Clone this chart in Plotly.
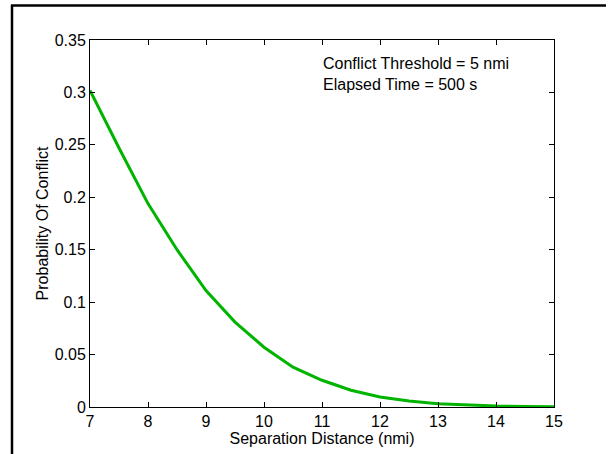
import plotly.graph_objects as go

separation = [7, 7.5, 8, 8.5, 9, 9.5, 10, 10.5, 11, 11.5, 12, 12.5, 13, 13.5, 14, 14.5, 15]
prob_conflict = [0.302, 0.247, 0.194, 0.150, 0.111, 0.081, 0.057, 0.038, 0.0255,
                 0.016, 0.0095, 0.0058, 0.0032, 0.0017, 0.0009, 0.0005, 0.0002]
x_ticks = [7, 8, 9, 10, 11, 12, 13, 14, 15]
y_ticks = [0, 0.05, 0.1, 0.15, 0.2, 0.25, 0.3, 0.35]
y_ticklabels = ["0", "0.05", "0.1", "0.15", "0.2", "0.25", "0.3", "0.35"]

W, H = 611, 454
L, R, T, B = 90, 57, 40, 47
pw, ph = W - L - R, H - T - B

def px(xp):
    return (xp - L) / pw

def py(yp):
    return (H - B - yp) / ph

FONT = "Liberation Sans, Arial, Helvetica, sans-serif"
FS = 16

fig = go.Figure()
fig.add_trace(go.Scatter(x=separation, y=prob_conflict, mode="lines",
                         line=dict(color="#00b400", width=3), showlegend=False))

axis_common = dict(showgrid=False, zeroline=False, showline=True, linecolor="#000000",
                   linewidth=1, mirror="allticks", ticks="inside", ticklen=5,
                   tickcolor="#000000", tickfont=dict(family=FONT, size=FS, color="#000"))

fig.update_xaxes(range=[7, 15], tickvals=x_ticks, ticktext=[str(v) for v in x_ticks],
                 title=dict(text="Separation Distance (nmi)", font=dict(family=FONT, size=FS, color="#000"),
                            standoff=0), **axis_common)
fig.update_yaxes(range=[0, 0.35], tickvals=y_ticks, ticktext=y_ticklabels,
                 title=dict(text="Probability Of Conflict", font=dict(family=FONT, size=FS, color="#000"),
                            standoff=2), **axis_common)

fig.add_annotation(xref="paper", yref="paper", x=px(321), y=py(53), xanchor="left", yanchor="top",
                   align="left", showarrow=False,
                   text="Conflict Threshold = 5 nmi<br>Elapsed Time = 500 s",
                   font=dict(family=FONT, size=FS, color="#000"))

# outer figure border (left and top)
fig.add_shape(type="line", xref="paper", yref="paper", x0=px(12), x1=px(12), y0=py(5), y1=py(H + 5),
              line=dict(color="#000", width=2.5))
fig.add_shape(type="line", xref="paper", yref="paper", x0=px(11), x1=px(606), y0=py(5.5), y1=py(5.5),
              line=dict(color="#000", width=2.5))

fig.update_layout(width=W, height=H, margin=dict(l=L, r=R, t=T, b=B),
                  plot_bgcolor="white", paper_bgcolor="white",
                  font=dict(family=FONT, size=FS, color="#000"))

fig.write_html("out.html")
